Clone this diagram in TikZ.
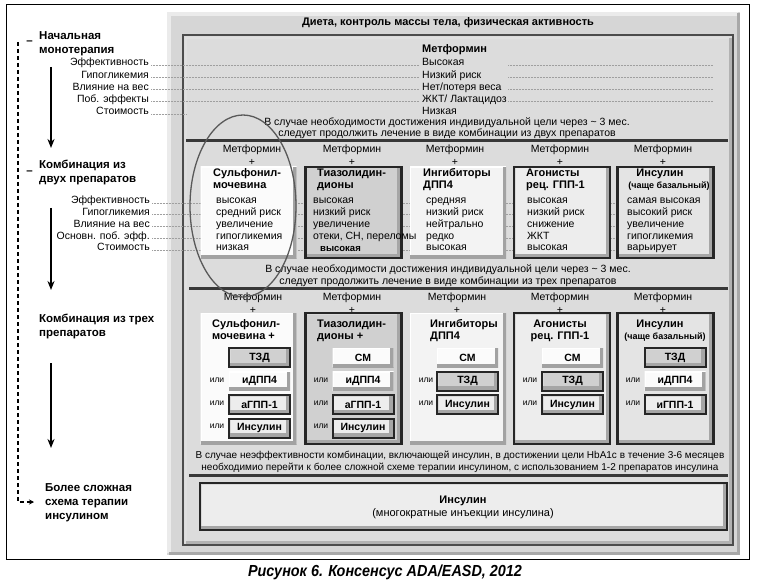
\documentclass[tikz,border=0pt]{standalone}
\usepackage{fontspec}
\setmainfont{Liberation Sans}
\usetikzlibrary{arrows.meta}

\definecolor{panelgray}{HTML}{D6D6D6}
\definecolor{panelhi}{HTML}{EBEBEB}
\definecolor{panello}{HTML}{A8A8A8}
\definecolor{innergray}{HTML}{DCDCDC}
\definecolor{edgegray}{HTML}{A2A2A2}
\definecolor{boxgray}{HTML}{D0D0D0}
\definecolor{boxmid}{HTML}{E4E4E4}
\definecolor{boxlight}{HTML}{EDEDED}
\definecolor{boxpale}{HTML}{F3F3F3}
\definecolor{boxwhite}{HTML}{FBFBFB}
\definecolor{lineblack}{HTML}{383838}

\tikzset{
  txt/.style={inner sep=0pt, font=\fontsize{10.5}{12}\selectfont},
  hd/.style={inner sep=0pt, font=\fontsize{11}{12}\selectfont\bfseries},
  hdsmall/.style={inner sep=0pt, font=\fontsize{9}{10}\selectfont\bfseries},
  side/.style={inner sep=0pt, anchor=base west, font=\fontsize{11.5}{13}\selectfont\bfseries},
  small/.style={inner sep=0pt, anchor=base, font=\fontsize{10}{11}\selectfont},
  ili/.style={inner sep=0pt, font=\fontsize{8.5}{10}\selectfont},
  guide/.style={draw=gray!75, line width=0.5pt, densely dotted},
  sep/.style={draw=lineblack, line width=3pt},
  stage/.style={line width=1.8pt, -{Stealth[length=9pt, width=7pt]}},
  later/.style={line width=1.1pt, dash pattern=on 4pt off 3pt, -{Stealth[length=5pt, width=5pt]}},
  litebox/.style={fill=#1, minimum width=96pt, inner sep=0pt,
    path picture={
      \draw[line width=2pt, white] (path picture bounding box.south west) -- (path picture bounding box.north west) -- (path picture bounding box.north east);
      \draw[line width=7pt, edgegray] (path picture bounding box.south west) -- (path picture bounding box.south east) -- (path picture bounding box.north east);}},
  litebox/.default=boxwhite,
  darkbox/.style={fill=#1, draw=black!85, line width=2.4pt, minimum width=96pt, inner sep=0pt,
    path picture={
      \draw[line width=3pt, white!70!gray] (path picture bounding box.south west) -- (path picture bounding box.north west) -- (path picture bounding box.north east);
      \draw[line width=9pt, gray!70] (path picture bounding box.south west) -- (path picture bounding box.south east) -- (path picture bounding box.north east);}},
  darkbox/.default=boxlight,
  row2/.style={minimum height=91pt},
  row3/.style={minimum height=131pt},
  litesub/.style={litebox=#1, minimum width=61pt, minimum height=19pt, font=\fontsize{10.5}{12}\selectfont\bfseries},
  litesub/.default=boxwhite,
  darksub/.style={darkbox=#1, line width=2pt, minimum width=61pt, minimum height=19pt, font=\fontsize{10.5}{12}\selectfont\bfseries},
  darksub/.default=boxlight
}

% rows of values, left aligned / right aligned
\newcommand{\vals}[5]{\foreach \t [count=\i] in {#5}
  \node[txt, anchor=base west] (#1\i) at (#2,{#3+#4*(\i-1)}) {\t};}
\newcommand{\labs}[5]{\foreach \t [count=\i] in {#5}
  \node[txt, anchor=base east] (#1\i) at (#2,{#3+#4*(\i-1)}) {\t};}

\begin{document}
\begin{tikzpicture}[x=1pt, y=-1pt]
\useasboundingbox (0,0) rectangle (769,583);
\fill[white] (0,0) rectangle (769,583);
\draw[line width=1pt] (6,5) rectangle (749,559);
%
% panel and inner frame
\fill[panelgray] (167,12) rectangle (740,555);
\draw[line width=4pt, panelhi] (169,553) -- (169,14) -- (738,14);
\draw[line width=3pt, panello] (168.5,553.5) -- (738.5,553.5) -- (738.5,13.5);
\fill[innergray] (183,35) rectangle (733,545);
\draw[line width=2.5pt, white!88!black] (186,543) -- (186,38) -- (730,38);
\draw[line width=2.5pt, gray!60] (186,542.5) -- (730.5,542.5) -- (730.5,38);
\draw[line width=1.5pt, black!70] (183,35) rectangle (733,545);
\node[hd] (diet) at (448,23) {Диета, контроль массы тела, физическая активность};
%
% guide lines
\foreach \y in {65,77.2,89.4,101.6} {
  \draw[guide] (151,\y) -- (419,\y);
  \draw[guide] (508,\y) -- (713,\y);
}
\draw[guide] (151,113.8) -- (186,113.8);
\foreach \y in {203,214.75,226.5,238.25,250} {
  \draw[guide] (152,\y) -- (207,\y);
  \draw[guide] (492,\y) -- (525,\y);
  \draw[guide] (596,\y) -- (625,\y);
}
\foreach \y in {203,214.75,226.5,250} {
  \draw[guide] (284,\y) -- (311,\y);
  \draw[guide] (392,\y) -- (424,\y);
}
\draw[guide] (284,238.25) -- (311,238.25);
%
% monotherapy
\node[hd, anchor=base west] (met) at (422,53) {Метформин};
\labs{l1}{149}{66}{12.2}{Эффективность, Гипогликемия, Влияние на вес, Поб. эффекты, Стоимость}
\vals{v1}{422}{66}{12.2}{Высокая, Низкий риск, Нет/потеря веса, ЖКТ/ Лактацидоз, Низкая}
\node[txt, anchor=base] (go1a) at (447,125.5) {В случае необходимости достижения индивидуальной цели через \textasciitilde\ 3 мес.};
\node[txt, anchor=base] (go1b) at (447,136.5) {следует продолжить лечение в виде комбинации из двух препаратов};
\draw[sep] (186,141) -- (728,141);
%
% two drugs
\foreach \x [count=\i] in {252,352,455,560,663} {
  \node[txt] (m2\i) at (\x,150) {Метформин};
  \node[txt] (p2\i) at (\x,162) {+};
}
\node[litebox, row2] (sm2) at (248.5,212.5) {};
\node[darkbox=boxgray, row2] (tzd2) at (353.5,212.5) {};
\node[litebox=boxpale, row2] (dpp2) at (458,212.5) {};
\node[darkbox, row2] (gpp2) at (562,212.5) {};
\node[darkbox=boxmid, row2] (ins2) at (665.5,212.5) {};
\node[hd, anchor=base west] (sm2a) at (213,177) {Сульфонил-};
\node[hd, anchor=base west] (sm2b) at (213,189) {мочевина};
\node[hd, anchor=base west] (tzd2a) at (317,177) {Тиазолидин-};
\node[hd, anchor=base west] (tzd2b) at (317,189) {дионы};
\node[hd, anchor=base west] (dpp2a) at (423,177) {Ингибиторы};
\node[hd, anchor=base west] (dpp2b) at (423,189) {ДПП4};
\node[hd, anchor=base west] (gpp2a) at (526,177) {Агонисты};
\node[hd, anchor=base west] (gpp2b) at (526,189) {рец. ГПП-1};
\node[hd, anchor=base] (ins2a) at (660,177) {Инсулин};
\node[hdsmall, anchor=base] (ins2b) at (669,188.5) {(чаще базальный)};
\labs{l2}{150}{204}{11.75}{Эффективность, Гипогликемия, Влияние на вес, Основн. поб. эфф., Стоимость}
\vals{smv}{216}{204}{11.75}{высокая, средний риск, увеличение, гипогликемия, низкая}
\vals{tzv}{313}{204}{11.75}{высокая, низкий риск, увеличение, {отеки, СН, переломы}}
\node[hdsmall, font=\fontsize{9.5}{11}\selectfont\bfseries, anchor=base west] (tzv5) at (320,251.5) {высокая};
\vals{dpv}{426}{204}{11.75}{средняя, низкий риск, нейтрально, редко, высокая}
\vals{gpv}{527}{204}{11.75}{высокая, низкий риск, снижение, ЖКТ, высокая}
\vals{inv}{627}{204}{11.75}{самая высокая, высокий риск, увеличение, гипогликемия, варьирует}
\node[txt, anchor=base] (go2a) at (448,272) {В случае необходимости достижения индивидуальной цели через \textasciitilde\ 3 мес.};
\node[txt, anchor=base] (go2b) at (448,284) {следует продолжить лечение в виде комбинации из трех препаратов};
\draw[sep] (189,288) -- (728,288);
%
% three drugs
\foreach \x [count=\i] in {253,352,457,560,663} {
  \node[txt] (m3\i) at (\x,298) {Метформин};
  \node[txt] (p3\i) at (\x,310) {+};
}
\node[litebox, row3] (sm3) at (248.5,378.5) {};
\node[darkbox=boxgray, row3] (tzd3) at (353.5,378.5) {};
\node[litebox=boxpale, row3] (dpp3) at (458,378.5) {};
\node[darkbox, row3] (gpp3) at (562,378.5) {};
\node[darkbox=boxmid, row3] (ins3) at (665.5,378.5) {};
\node[hd, anchor=base west] (sm3a) at (212,327.5) {Сульфонил-};
\node[hd, anchor=base west] (sm3b) at (212,339.5) {мочевина +};
\node[hd, anchor=base west] (tzd3a) at (317,327.5) {Тиазолидин-};
\node[hd, anchor=base west] (tzd3b) at (317,339.5) {дионы +};
\node[hd, anchor=base west] (dpp3a) at (430,327.5) {Ингибиторы};
\node[hd, anchor=base west] (dpp3b) at (430,339.5) {ДПП4};
\node[hd, anchor=base] (gpp3a) at (560,327.5) {Агонисты};
\node[hd, anchor=base] (gpp3b) at (560,339.5) {рец. ГПП-1};
\node[hd, anchor=base] (ins3a) at (660,327.5) {Инсулин};
\node[hdsmall, anchor=base] (ins3b) at (665,339.5) {(чаще базальный)};
%
\node[darksub=boxgray] (sm3s1) at (259.5,357.5) {ТЗД};
\node[litesub] (sm3s2) at (259.5,381) {иДПП4};
\node[darksub] (sm3s3) at (259.5,404.5) {аГПП-1};
\node[darksub] (sm3s4) at (259.5,428) {Инсулин};
\node[litesub] (tzd3s1) at (363,357.5) {СМ};
\node[litesub] (tzd3s2) at (363,381) {иДПП4};
\node[darksub] (tzd3s3) at (363,404.5) {аГПП-1};
\node[darksub] (tzd3s4) at (363,428) {Инсулин};
\node[litesub] (dpp3s1) at (467.5,357.5) {СМ};
\node[darksub=boxgray] (dpp3s2) at (467.5,381) {ТЗД};
\node[darksub] (dpp3s3) at (467.5,404.5) {Инсулин};
\node[litesub] (gpp3s1) at (572.5,357.5) {СМ};
\node[darksub=boxgray] (gpp3s2) at (572.5,381) {ТЗД};
\node[darksub] (gpp3s3) at (572.5,404.5) {Инсулин};
\node[darksub=boxgray] (ins3s1) at (675,357.5) {ТЗД};
\node[litesub] (ins3s2) at (675,381) {иДПП4};
\node[darksub] (ins3s3) at (675,404.5) {иГПП-1};
\foreach \y [count=\i] in {380,403,426} {
  \node[ili] (sm3o\i) at (217,\y) {или};
  \node[ili] (tzd3o\i) at (321,\y) {или};
}
\foreach \y [count=\i] in {380,403} {
  \node[ili] (dpp3o\i) at (426,\y) {или};
  \node[ili] (gpp3o\i) at (530,\y) {или};
  \node[ili] (ins3o\i) at (633,\y) {или};
}
%
% insulin
\node[small] (fail1) at (460,458) {В случае неэффективности комбинации, включающей инсулин, в достижении цели HbA1c в течение 3-6 месяцев};
\node[small] (fail2) at (460,470) {необходимио перейти к более сложной схеме терапии инсулином, с использованием 1-2 препаратов инсулина};
\draw[sep] (189,475) -- (728,475);
\node[darkbox, minimum width=527pt, minimum height=47pt] (multi) at (463.5,506.5) {};
\node[hd, anchor=base] (multia) at (463,503) {Инсулин};
\node[txt, font=\fontsize{11}{12}\selectfont, anchor=base] (multib) at (463,516) {(многократные инъекции инсулина)};
%
% ellipse round sulfonylurea
\draw[draw=black!65, line width=1.3pt] (243,206) ellipse [x radius=53, y radius=91];
%
% left column
\node[side, anchor=base] (dash1) at (29.5,45) {–};
\node[side] (mono1) at (39,40) {Начальная};
\node[side] (mono2) at (39,54) {монотерапия};
\node[side, anchor=base] (dash2) at (29.5,175) {–};
\node[side] (two1) at (39,169) {Комбинация из};
\node[side] (two2) at (39,183) {двух препаратов};
\node[side] (three1) at (39,322) {Комбинация из трех};
\node[side] (three2) at (39,336) {препаратов};
\node[side] (intens1) at (45,491) {Более сложная};
\node[side] (intens2) at (45,505) {схема терапии};
\node[side] (intens3) at (45,519) {инсулином};
\coordinate (a1) at (51,67);
\coordinate (a2) at (51,148);
\coordinate (b1) at (51,208);
\coordinate (b2) at (51,290);
\coordinate (c1) at (51,363);
\coordinate (c2) at (51,448);
\coordinate (d1) at (18,42);
\coordinate (d2) at (34,502);
\draw[stage] (a1) -- (a2);
\draw[stage] (b1) -- (b2);
\draw[stage] (c1) -- (c2);
\draw[later] (d1) |- (d2);
%
\node (cap) at (385,572) {\scalebox{0.9}[1]{\fontsize{16}{18}\selectfont\bfseries\itshape Рисунок 6. Консенсус ADA/EASD, 2012}};
\end{tikzpicture}
\end{document}
